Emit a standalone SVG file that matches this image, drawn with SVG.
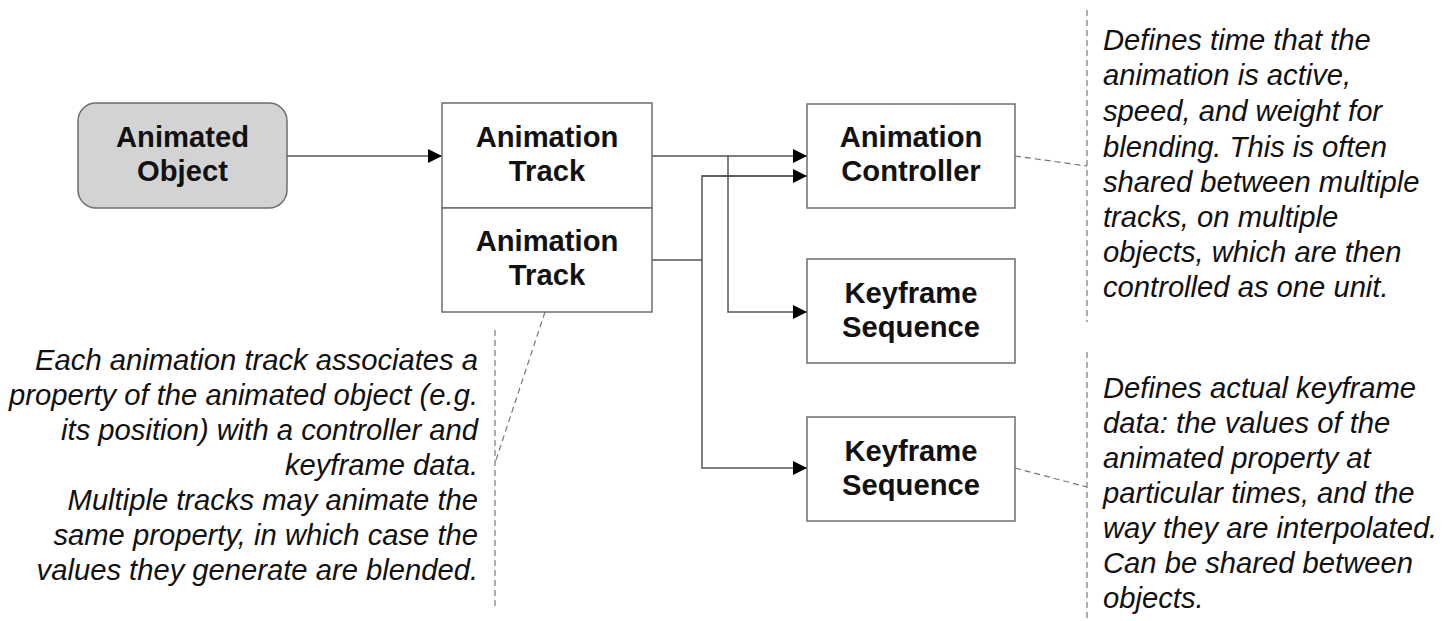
<svg xmlns="http://www.w3.org/2000/svg" width="1453" height="621" viewBox="0 0 1453 621">
  <style>
    .box { fill: #ffffff; stroke: #6e6e6e; stroke-width: 1.5; }
    .obj { fill: #d3d3d3; stroke: #6e6e6e; stroke-width: 1.5; }
    .label { font-family: "Liberation Sans", Arial, sans-serif; font-weight: bold; font-size: 29.2px; fill: #111; text-anchor: middle; }
    .note { font-family: "Liberation Sans", Arial, sans-serif; font-style: italic; font-size: 29.2px; fill: #111; }
    .wire { fill: none; stroke: #555; stroke-width: 1.5; }
    .dash { fill: none; stroke: #777; stroke-width: 1.2; stroke-dasharray: 6 4; }
  </style>
  <defs>
    <marker id="arrow" viewBox="0 0 14 14" refX="14" refY="7" markerWidth="14" markerHeight="14" markerUnits="userSpaceOnUse" orient="auto">
      <path d="M0,0 L14,7 L0,14 Z" fill="#000"/>
    </marker>
  </defs>
  <rect width="1453" height="621" fill="#ffffff"/>

  <!-- connectors -->
  <g id="connectors">
    <line class="wire" x1="287" y1="156" x2="442" y2="156" marker-end="url(#arrow)"/>
    <line class="wire" x1="652" y1="156" x2="807" y2="156" marker-end="url(#arrow)"/>
    <polyline class="wire" points="728,156 728,312 807,312" marker-end="url(#arrow)"/>
    <polyline class="wire" points="652,260 702,260"/>
    <polyline class="wire" points="807,176 702,176 702,468 807,468" marker-end="url(#arrow)"/>
    <path class="wire" d="M702,176 L807,176" marker-end="url(#arrow)"/>
    <!-- annotation leaders -->
    <line class="dash" x1="1087" y1="10" x2="1087" y2="322"/>
    <line class="dash" x1="1015" y1="156" x2="1087" y2="166"/>
    <line class="dash" x1="1087" y1="352" x2="1087" y2="618"/>
    <line class="dash" x1="1015" y1="468" x2="1087" y2="487"/>
    <line class="dash" x1="495" y1="330" x2="495" y2="606"/>
    <line class="dash" x1="545" y1="312" x2="495" y2="463"/>
  </g>

  <g id="animated-object">
    <rect class="obj" x="78" y="103" width="209" height="105" rx="18" ry="18"/>
    <text class="label" x="182.5" y="147">Animated</text>
    <text class="label" x="182.5" y="181">Object</text>
  </g>

  <g id="animation-track-1">
    <rect class="box" x="442" y="103" width="210" height="105"/>
    <text class="label" x="547" y="147">Animation</text>
    <text class="label" x="547" y="181">Track</text>
  </g>

  <g id="animation-track-2">
    <rect class="box" x="442" y="208" width="210" height="104"/>
    <text class="label" x="547" y="251">Animation</text>
    <text class="label" x="547" y="285">Track</text>
  </g>

  <g id="animation-controller">
    <rect class="box" x="807" y="104" width="208" height="104"/>
    <text class="label" x="911" y="147">Animation</text>
    <text class="label" x="911" y="181">Controller</text>
  </g>

  <g id="keyframe-sequence-1">
    <rect class="box" x="807" y="259" width="208" height="104"/>
    <text class="label" x="911" y="303">Keyframe</text>
    <text class="label" x="911" y="337">Sequence</text>
  </g>

  <g id="keyframe-sequence-2">
    <rect class="box" x="807" y="417" width="208" height="104"/>
    <text class="label" x="911" y="461">Keyframe</text>
    <text class="label" x="911" y="495">Sequence</text>
  </g>

  <g id="note-controller">
    <text class="note" x="1103" y="50">Defines time that the</text>
    <text class="note" x="1103" y="85">animation is active,</text>
    <text class="note" x="1103" y="121">speed, and weight for</text>
    <text class="note" x="1103" y="157">blending. This is often</text>
    <text class="note" x="1103" y="192">shared between multiple</text>
    <text class="note" x="1103" y="227">tracks, on multiple</text>
    <text class="note" x="1103" y="262">objects, which are then</text>
    <text class="note" x="1103" y="297">controlled as one unit.</text>
  </g>

  <g id="note-keyframes">
    <text class="note" x="1103" y="398">Defines actual keyframe</text>
    <text class="note" x="1103" y="433">data: the values of the</text>
    <text class="note" x="1103" y="468">animated property at</text>
    <text class="note" x="1103" y="503">particular times, and the</text>
    <text class="note" x="1103" y="538">way they are interpolated.</text>
    <text class="note" x="1103" y="573">Can be shared between</text>
    <text class="note" x="1103" y="608">objects.</text>
  </g>

  <g id="note-track" text-anchor="end">
    <text class="note" x="478" y="370">Each animation track associates a</text>
    <text class="note" x="478" y="405">property of the animated object (e.g.</text>
    <text class="note" x="478" y="440">its position) with a controller and</text>
    <text class="note" x="478" y="475">keyframe data.</text>
    <text class="note" x="478" y="510">Multiple tracks may animate the</text>
    <text class="note" x="478" y="545">same property, in which case the</text>
    <text class="note" x="478" y="580">values they generate are blended.</text>
  </g>
</svg>
